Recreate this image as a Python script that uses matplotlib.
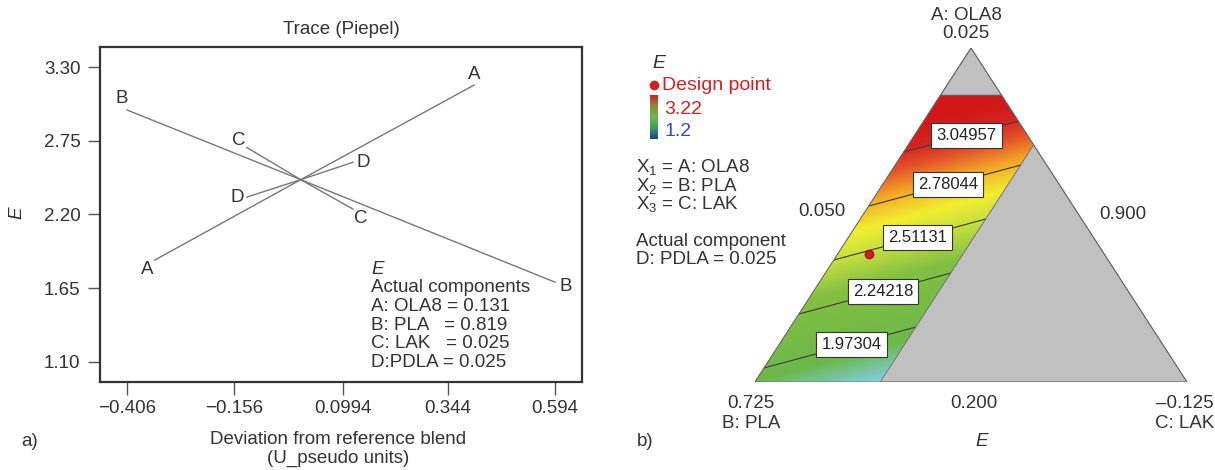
import numpy as np
import matplotlib
matplotlib.use('Agg')
import matplotlib.pyplot as plt
from matplotlib.colors import LinearSegmentedColormap, Normalize
from matplotlib.patches import Polygon
from matplotlib.lines import Line2D
from matplotlib.cm import ScalarMappable

plt.rcParams['font.family'] = ['Liberation Sans', 'DejaVu Sans']
plt.rcParams['mathtext.fontset'] = 'custom'
plt.rcParams['mathtext.rm'] = 'Liberation Sans'
plt.rcParams['mathtext.it'] = 'Liberation Sans:italic'

# a) trace plot: deviation from reference blend vs E
trace_A_dev = [-0.341, 0.0, 0.405]
trace_A_E = [1.86, 2.46, 3.166]
trace_B_dev = [-0.406, 0.0, 0.594]
trace_B_E = [2.98, 2.46, 1.695]
trace_C_dev = [-0.126, 0.0, 0.122]
trace_C_E = [2.70, 2.46, 2.24]
trace_D_dev = [-0.126, 0.0, 0.122]
trace_D_E = [2.33, 2.46, 2.59]

x_ticks = [-0.406, -0.156, 0.0994, 0.344, 0.594]
x_ticklabels = ['\u22120.406', '\u22120.156', '0.0994', '0.344', '0.594']
y_ticks = [1.10, 1.65, 2.20, 2.75, 3.30]

actual_components = ['A: OLA8 = 0.131', 'B: PLA   = 0.819',
                     'C: LAK   = 0.025', 'D:PDLA = 0.025']

# b) ternary contour: linear mixture model
coef_A, coef_B, coef_C = 3.568, 1.903, 1.20
a_max = 0.859   # upper limit of A (pseudo fraction)
c_max = 0.29    # upper limit of C (pseudo fraction)
contour_levels = [1.97304, 2.24218, 2.51131, 2.78044, 3.04957]
label_c = [0.167, 0.161, 0.159, 0.151, 0.12]
design_point = (0.383, 0.072)  # (a, c)
cbar_min, cbar_max = 1.2, 3.22

W, H = 1215, 470
FS = 13.5


def fx(px):
    return px / W


def fy(py):
    return 1 - py / H


fig = plt.figure(figsize=(W / 100, H / 100), dpi=100)

# ---------- a) ----------
ax1 = fig.add_axes([fx(100), fy(382), 482 / W, 335 / H])
line_col = '#777777'
traces = [('A', trace_A_dev, trace_A_E, (-8, -9), (0, 11)),
          ('B', trace_B_dev, trace_B_E, (-5, 11), (11, -4)),
          ('C', trace_C_dev, trace_C_E, (-8, 7), (8, -9)),
          ('D', trace_D_dev, trace_D_E, (-10, 0), (10, 0))]
for name, xs, es, off0, off1 in traces:
    ax1.plot(xs, es, color=line_col, lw=1.0)
    for (x, e), off in [((xs[0], es[0]), off0), ((xs[-1], es[-1]), off1)]:
        ax1.annotate(name, (x, e), xytext=off, textcoords='offset pixels',
                     ha='center', va='center', fontsize=FS, color='#333333')

ax1.set_xlim(-0.469, 0.657)
ax1.set_ylim(0.95, 3.45)
ax1.set_xticks(x_ticks)
ax1.set_xticklabels(x_ticklabels)
ax1.set_yticks(y_ticks)
ax1.set_yticklabels([f'{v:.2f}' for v in y_ticks])
ax1.tick_params(direction='out', length=9, width=1, color='#555555',
                labelsize=FS, labelcolor='#333333')
ax1.tick_params(axis='y', pad=5)
ax1.tick_params(axis='x', pad=4)
for sp in ax1.spines.values():
    sp.set_linewidth(1.6)
    sp.set_color('#333333')

fig.text(fx(341), fy(30), 'Trace (Piepel)', ha='center', va='center',
         fontsize=FS, color='#333333')
fig.text(fx(17), fy(213), 'E', rotation=90, style='italic', ha='center',
         va='center', fontsize=FS, color='#333333')
fig.text(fx(338), fy(440), 'Deviation from reference blend', ha='center',
         va='center', fontsize=FS, color='#333333')
fig.text(fx(338), fy(458), '(U_pseudo units)', ha='center', va='center',
         fontsize=FS, color='#333333')
fig.text(fx(30), fy(441), 'a)', ha='center', va='center', fontsize=FS,
         color='#333333')

fig.text(fx(371), fy(269), 'E', style='italic', ha='left', va='center',
         fontsize=FS, color='#333333')
for i, s in enumerate(['Actual components'] + actual_components):
    fig.text(fx(371), fy(288 + 18.6 * i), s, ha='left', va='center',
             fontsize=FS, color='#333333')

# ---------- b) ----------
ax2 = fig.add_axes([fx(755), fy(382), 432 / W, 334 / H])
ax2.set_xlim(0, 1)
ax2.set_ylim(0, 1)
ax2.axis('off')

cmap = LinearSegmentedColormap.from_list('de', [
    (0.0, '#1d3c9c'), (0.25, '#82cde2'), (0.35, '#6cb84a'),
    (0.55, '#82c042'), (0.65, '#c8e040'), (0.72, '#f2ee30'),
    (0.80, '#f4a828'), (0.87, '#e4522a'), (0.93, '#d42222'),
    (1.0, '#d01818')])
norm = Normalize(cbar_min, cbar_max)

ax2.fill([0, 1, 0.5], [0, 0, 1], facecolor='#c0c0c0', edgecolor='#5a5a5a',
         lw=0.8, zorder=1)

n = 500
X, Y = np.meshgrid(np.linspace(0, 1, n), np.linspace(0, 1, n))
a = Y
c = X - Y / 2
b = 1 - a - c
E = coef_A * a + coef_B * b + coef_C * c
inside = (a >= -0.01) & (b >= -0.01) & (c >= -0.01) & (a <= a_max + 0.01) & (c <= c_max + 0.01)
Em = np.ma.masked_where(~inside, E)

region = [(0, 0), (c_max, 0), (c_max + (1 - c_max) / 2, 1 - c_max),
          (1 - a_max + a_max / 2, a_max), (a_max / 2, a_max)]
poly = Polygon(region, closed=True, facecolor='none', edgecolor='#6a6a6a',
               lw=0.6, zorder=4)
ax2.add_patch(poly)
im = ax2.imshow(E, extent=[0, 1, 0, 1], origin='lower', aspect='auto',
                cmap=cmap, norm=norm, zorder=2, interpolation='bilinear')
im.set_clip_path(poly)
cs = ax2.contour(X, Y, Em, levels=contour_levels, colors='#3a3a3a',
                 linewidths=0.8, zorder=3)
cs.set_clip_path(poly)

for lev, lc in zip(contour_levels, label_c):
    la = (lev - coef_B - (coef_C - coef_B) * lc) / (coef_A - coef_B)
    ax2.text(lc + la / 2, la, f'{lev:.5f}', ha='center', va='center',
             fontsize=12, color='#222222', zorder=6,
             bbox=dict(boxstyle='square,pad=0.3', facecolor='white',
                       edgecolor='#333333', lw=0.8))

da, dc = design_point
ax2.plot([dc + da / 2], [da], 'o', color='#cc2020', ms=6, mec='#aa1010',
         zorder=7)

# legend block
fig.text(fx(652), fy(63), 'E', style='italic', ha='left', va='center',
         fontsize=14, color='#333333')
fig.add_artist(Line2D([fx(654)], [fy(85)], marker='o', color='#d42020',
                      ms=6, transform=fig.transFigure))
fig.text(fx(662), fy(85), 'Design point', ha='left', va='center',
         fontsize=14, color='#d42020')
cax = fig.add_axes([fx(650), fy(139), 8 / W, 44 / H])
cb = fig.colorbar(ScalarMappable(norm=norm, cmap=LinearSegmentedColormap.from_list(
    'bar', ['#1d3c9c', '#3aa05a', '#6cb84a', '#8a8a3a', '#d42020'])), cax=cax)
cb.set_ticks([])
cb.outline.set_visible(False)
fig.text(fx(664), fy(109), f'{cbar_max:.2f}', ha='left', va='center',
         fontsize=14, color='#d42020')
fig.text(fx(664), fy(131), f'{cbar_min:g}', ha='left', va='center',
         fontsize=14, color='#3a48b8')

comp_lines = ['X$_1$ = A: OLA8', 'X$_2$ = B: PLA', 'X$_3$ = C: LAK']
for i, s in enumerate(comp_lines):
    fig.text(fx(636), fy(167 + 18.5 * i), s, ha='left', va='center',
             fontsize=FS, color='#333333')
fig.text(fx(636), fy(241), 'Actual component', ha='left', va='center',
         fontsize=FS, color='#333333')
fig.text(fx(636), fy(259), 'D: PDLA = 0.025', ha='left', va='center',
         fontsize=FS, color='#333333')

# vertex / edge labels
lab = dict(ha='center', va='center', fontsize=FS, color='#333333')
fig.text(fx(966), fy(15), 'A: OLA8', **lab)
fig.text(fx(966), fy(34), '0.025', **lab)
fig.text(fx(822), fy(212), '0.050', **lab)
fig.text(fx(1123), fy(215), '0.900', **lab)
fig.text(fx(751), fy(404), '0.725', **lab)
fig.text(fx(751), fy(423), 'B: PLA', **lab)
fig.text(fx(974), fy(404), '0.200', **lab)
fig.text(fx(1214), fy(404), '\u20130.125', ha='right', va='center',
         fontsize=FS, color='#333333')
fig.text(fx(1214), fy(423), 'C: LAK', ha='right', va='center',
         fontsize=FS, color='#333333')
fig.text(fx(982), fy(441), 'E', style='italic', **lab)
fig.text(fx(645), fy(441), 'b)', **lab)

fig.savefig('out.png', dpi=100)
